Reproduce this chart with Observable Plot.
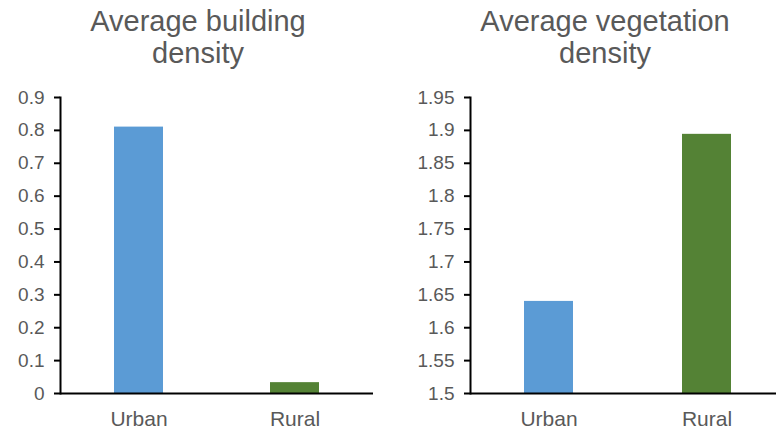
<!DOCTYPE html>
<html>
<head>
<meta charset="utf-8">
<script src="https://cdn.jsdelivr.net/npm/d3@7"></script>
<script src="https://cdn.jsdelivr.net/npm/@observablehq/plot@0.6"></script>
<style>
  html, body { margin: 0; padding: 0; background: #fff; }
  #chart { position: relative; width: 776px; height: 434px; overflow: hidden; font-family: "Liberation Sans", Arial, sans-serif; }
  .title { position: absolute; top: 5px; width: 340px; text-align: center; font-size: 29px; line-height: 32px; color: #595959; }
  .panel { position: absolute; top: 80px; }
</style>
</head>
<body>
<div id="chart"></div>
<script>
// Category labels and the two measured averages
const regions = ["Urban", "Rural"];
const buildingDensity = [0.81, 0.033];
const vegetationDensity = [1.64, 1.894];

// Tick values shown on each value axis
const buildingTicks = [0, 0.1, 0.2, 0.3, 0.4, 0.5, 0.6, 0.7, 0.8, 0.9];
const vegetationTicks = [1.5, 1.55, 1.6, 1.65, 1.7, 1.75, 1.8, 1.85, 1.9, 1.95];

// Bar colours per region
const regionColors = ["#5B9BD5", "#548235"];

const fmt = d => `${+d.toFixed(2)}`;

function panel({title, values, ticks, base, left, width, marginLeft, marginRight, xRange, titleCenter}) {
  const rows = regions.map((r, i) => ({region: r, value: values[i]}));
  const chart = Plot.plot({
    width,
    height: 354,
    marginTop: 17,
    marginBottom: 41,
    marginLeft,
    marginRight,
    style: {fontFamily: "Liberation Sans, Arial, sans-serif", background: "transparent"},
    x: {domain: regions, range: xRange, paddingInner: 0.687, paddingOuter: 0.3435, label: null},
    y: {domain: [ticks[0], ticks[ticks.length - 1]], label: null},
    color: {domain: regions, range: regionColors},
    marks: [
      Plot.barY(rows, {x: "region", y1: () => base, y2: "value", fill: "region"}),
      Plot.axisY({ticks, tickSize: 6, tickPadding: 10, tickFormat: fmt, fontSize: 19, color: "#595959", stroke: "#000", strokeWidth: 2}),
      Plot.axisX({tickSize: 0, tickPadding: 18, fontSize: 21, color: "#595959"}),
      Plot.frame({anchor: "left", stroke: "#000", strokeWidth: 2}),
      Plot.ruleY([base], {stroke: "#000", strokeWidth: 2})
    ]
  });
  chart.classList.add("panel");
  chart.style.left = `${left}px`;
  const host = document.getElementById("chart");
  host.appendChild(chart);
  const t = document.createElement("div");
  t.className = "title";
  t.style.left = `${titleCenter - 170}px`;
  t.innerHTML = title;
  host.appendChild(t);
}

panel({title: "Average building<br>density", values: buildingDensity, ticks: buildingTicks, base: 0,
  left: 0, width: 388, marginLeft: 60, marginRight: 15, xRange: [60, 373], titleCenter: 198});
panel({title: "Average vegetation<br>density", values: vegetationDensity, ticks: vegetationTicks, base: 1.5,
  left: 388, width: 388, marginLeft: 82, marginRight: 0, xRange: [82, 398], titleCenter: 605});
</script>
</body>
</html>
